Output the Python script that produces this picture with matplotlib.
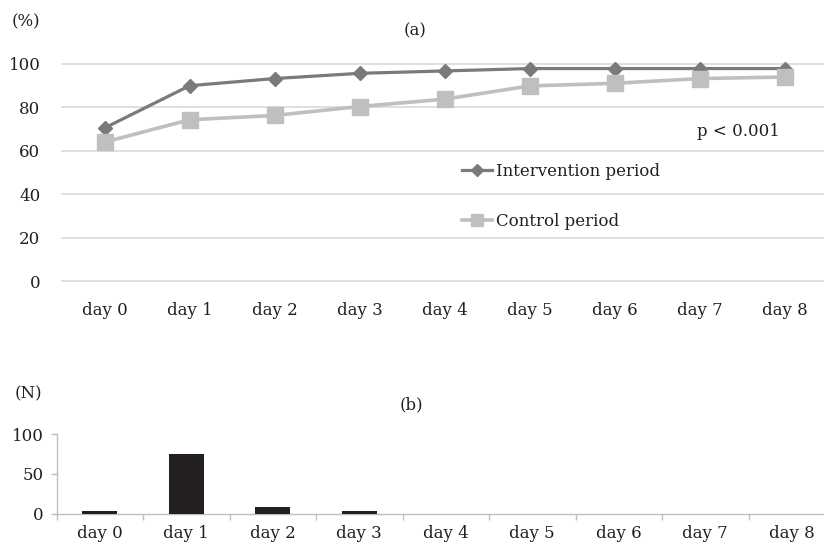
import matplotlib
matplotlib.use("Agg")
import matplotlib.pyplot as plt
import numpy as np

days = ["day 0", "day 1", "day 2", "day 3", "day 4", "day 5", "day 6", "day 7", "day 8"]
intervention = [70.5, 90, 93.3, 95.7, 96.8, 97.9, 97.9, 97.9, 97.9]
control = [64, 74.3, 76.3, 80.4, 83.8, 89.9, 91.1, 93.3, 94]
counts_n = [4, 75, 8, 4, 0, 0, 0, 0, 0]
y_ticks_a = [0, 20, 40, 60, 80, 100]
y_ticks_b = [0, 50, 100]

plt.rcParams['font.family'] = ['DejaVu Serif']
plt.rcParams['font.size'] = 12
TXT = '#231f20'

W, H = 824, 545
fig = plt.figure(figsize=(W / 100, H / 100), dpi=100)

def px(x0, y0, x1, y1):
    return [x0 / W, 1 - y1 / H, (x1 - x0) / W, (y1 - y0) / H]

x = np.arange(len(days))

# ---- (a) ----
ax1 = fig.add_axes(px(62, 64, 827.5, 281))
ax1.set_xlim(-0.5, 8.5)
ax1.set_ylim(0, 100)
for yv in y_ticks_a:
    ax1.axhline(yv, color='#d9d9d9', lw=1.2, zorder=0, clip_on=False)
ax1.plot(x, intervention, color='#7a7a7a', lw=2.3, marker='D', ms=7.5,
         label='Intervention period', clip_on=False, zorder=3)
ax1.plot(x, control, color='#bfbfbf', lw=2.6, marker='s', ms=11,
         label='Control period', clip_on=False, zorder=4)
for s in ax1.spines.values():
    s.set_visible(False)
ax1.set_yticks(y_ticks_a)
ax1.set_xticks(x)
ax1.set_xticklabels(days, color=TXT)
ax1.tick_params(axis='y', length=0, pad=15.5, labelcolor=TXT)
ax1.tick_params(axis='x', length=0, pad=15, labelcolor=TXT)
leg = ax1.legend(loc='upper left', bbox_to_anchor=(462 / W, 1 - 163 / H),
                 bbox_transform=fig.transFigure, frameon=False, borderpad=0,
                 borderaxespad=0, handlelength=1.8, handletextpad=0.25,
                 labelspacing=1.95, markerscale=0.75)
for t in leg.get_texts():
    t.set_color(TXT)
fig.text(697 / W, 1 - 131 / H, 'p < 0.001', ha='left', va='center', color=TXT)
fig.text(415.5 / W, 1 - 30.5 / H, '(a)', ha='center', va='center', color=TXT)
fig.text(25.5 / W, 1 - 22 / H, '(%)', ha='center', va='center', color=TXT)

# ---- (b) ----
ax2 = fig.add_axes(px(56.5, 434.3, 835, 513.7))
ax2.set_xlim(-0.5, 8.5)
ax2.set_ylim(0, 100)
ax2.bar(x, counts_n, width=0.405, color='#231f20', zorder=3)
for k in ['top', 'right']:
    ax2.spines[k].set_visible(False)
for k in ['left', 'bottom']:
    ax2.spines[k].set_color('#bfbfbf')
    ax2.spines[k].set_linewidth(1.0)
ax2.set_yticks(y_ticks_b)
ax2.set_xticks(x)
ax2.set_xticklabels(days, color=TXT)
ax2.set_xticks(np.arange(-0.5, 9, 1), minor=True)
ax2.tick_params(axis='x', which='major', length=0, pad=8, labelcolor=TXT)
ax2.tick_params(axis='x', which='minor', length=4, color='#bfbfbf', width=1)
ax2.tick_params(axis='y', length=4, color='#bfbfbf', width=1, pad=5, labelcolor=TXT)
fig.text(411 / W, 1 - 405 / H, '(b)', ha='center', va='center', color=TXT)
fig.text(28 / W, 1 - 394 / H, '(N)', ha='center', va='center', color=TXT)

fig.savefig('out.png', dpi=100)
